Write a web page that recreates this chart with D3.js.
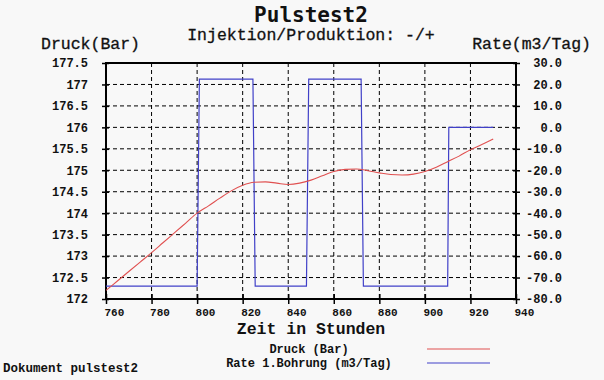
<!DOCTYPE html>
<html><head><meta charset="utf-8">
<script src="https://cdn.jsdelivr.net/npm/d3@7/dist/d3.min.js"></script>
<style>
html,body{margin:0;padding:0;background:#f8f8f8;}
svg{display:block;}
</style></head>
<body>
<script>
const title = "Pulstest2";
const subtitle = "Injektion/Produktion: -/+";
const xTicks = [760,780,800,820,840,860,880,900,920,940];
const leftTicks = [172,172.5,173,173.5,174,174.5,175,175.5,176,176.5,177,177.5];
const rightTicks = [-80,-70,-60,-50,-40,-30,-20,-10,0,10,20,30];
// Druck (Bar)
const pressureHours = [760,765,770,775,780,785,790,795,800,805,810,815,820,825,830,835,840,845,850,855,860,865,870,875,880,885,890,895,900,905,910,915,920,925,930];
const pressureValues = [172.2,172.42,172.64,172.86,173.08,173.31,173.54,173.77,174.0,174.17,174.35,174.52,174.65,174.72,174.73,174.7,174.67,174.7,174.77,174.87,174.97,175.02,175.03,174.99,174.94,174.9,174.89,174.91,174.97,175.07,175.2,175.33,175.48,175.6,175.73];
// Rate 1.Bohrung (m3/Tag)
const rateHours = [760,800,801,824.5,825.5,848,849,872,873,910,910.5,930];
const rateValues = [-74,-74,22.5,22.5,-74,-74,22.5,22.5,-74,-74,0,0];
const legendLabels = ["Druck (Bar)","Rate 1.Bohrung (m3/Tag)"];
const colors = ["#e05050","#4040c8"];

const W=604,H=380;
const L=106,R=516,T=63,B=299;
const svg=d3.select("body").append("svg").attr("width",W).attr("height",H);
svg.append("rect").attr("width",W).attr("height",H).attr("fill","#f8f8f8");

const x=d3.scaleLinear().domain([760,940]).range([L,R]);
const yL=d3.scaleLinear().domain([172,177.5]).range([B,T]);
const yR=d3.scaleLinear().domain([-80,30]).range([B,T]);

const mono="'Liberation Mono','DejaVu Sans Mono',monospace";

// grid
const g=svg.append("g");
g.selectAll(".gx").data(xTicks.slice(1,-1)).enter().append("line")
 .attr("x1",d=>x(d)).attr("x2",d=>x(d)).attr("y1",T).attr("y2",B)
 .attr("stroke","#000").attr("stroke-width",1).attr("stroke-dasharray","4,3");
g.selectAll(".gy").data(leftTicks.slice(1,-1)).enter().append("line")
 .attr("x1",L).attr("x2",R).attr("y1",d=>yL(d)).attr("y2",d=>yL(d))
 .attr("stroke","#000").attr("stroke-width",1).attr("stroke-dasharray","4,3");

// axes (ticks crossing the frame)
function styleAxis(sel){sel.select(".domain").remove();sel.selectAll("line").attr("stroke","#000").attr("stroke-width",1.5);}
const axL=svg.append("g").attr("transform",`translate(${L},0)`).call(d3.axisLeft(yL).tickValues(leftTicks).tickSize(4).tickFormat(d3.format("")));
styleAxis(axL);
axL.selectAll("text").attr("font-family",mono).attr("font-weight","bold").attr("font-size",12).attr("fill","#111").attr("x",-18);
svg.append("g").attr("transform",`translate(${L},0)`).call(d3.axisLeft(yL).tickValues(leftTicks).tickSize(-3).tickFormat("")).call(styleAxis);

const axR=svg.append("g").attr("transform",`translate(${R},0)`).call(d3.axisRight(yR).tickValues(rightTicks).tickSize(4).tickFormat(d=>d.toFixed(1)));
styleAxis(axR);
axR.selectAll("text").attr("font-family",mono).attr("font-weight","bold").attr("font-size",12).attr("fill","#111").attr("text-anchor","end").attr("x",46);
svg.append("g").attr("transform",`translate(${R},0)`).call(d3.axisRight(yR).tickValues(rightTicks).tickSize(-3).tickFormat("")).call(styleAxis);

const axB=svg.append("g").attr("transform",`translate(0,${B})`).call(d3.axisBottom(x).tickValues(xTicks).tickSize(5).tickFormat(d3.format("d")));
styleAxis(axB);
axB.selectAll("text").attr("font-family",mono).attr("font-weight","bold").attr("font-size",11).attr("fill","#111").attr("text-anchor","start").attr("x",-2).attr("y",9);
svg.append("g").attr("transform",`translate(0,${B})`).call(d3.axisBottom(x).tickValues(xTicks).tickSize(-5).tickFormat("")).call(styleAxis);

// frame
svg.append("rect").attr("x",L).attr("y",T).attr("width",R-L).attr("height",B-T).attr("fill","none").attr("stroke","#000").attr("stroke-width",2);

// lines
const clip=svg.append("clipPath").attr("id","c").append("rect").attr("x",L).attr("y",T).attr("width",R-L).attr("height",B-T);
const rateData=rateHours.map((h,i)=>[h,rateValues[i]]);
const presData=pressureHours.map((h,i)=>[h,pressureValues[i]]);
svg.append("path").datum(rateData).attr("d",d3.line().x(d=>x(d[0])).y(d=>yR(d[1])))
 .attr("fill","none").attr("stroke",colors[1]).attr("stroke-width",1.2).attr("clip-path","url(#c)");
svg.append("path").datum(presData).attr("d",d3.line().curve(d3.curveMonotoneX).x(d=>x(d[0])).y(d=>yL(d[1])))
 .attr("fill","none").attr("stroke",colors[0]).attr("stroke-width",1.1).attr("clip-path","url(#c)");

// texts
svg.append("text").attr("x",311).attr("y",22).attr("text-anchor","middle").attr("font-family","'DejaVu Sans Mono',monospace").attr("font-weight","bold").attr("font-size",21).attr("fill","#111").text(title);
svg.append("text").attr("x",311).attr("y",40).attr("text-anchor","middle").attr("font-family",mono).attr("font-size",16.5).attr("fill","#111").attr("stroke","#111").attr("stroke-width",0.3).text(subtitle);
svg.append("text").attr("x",41).attr("y",49).attr("font-family",mono).attr("font-size",16.5).attr("fill","#111").attr("stroke","#111").attr("stroke-width",0.3).text("Druck(Bar)");
svg.append("text").attr("x",591).attr("y",49).attr("text-anchor","end").attr("font-family",mono).attr("font-size",16.5).attr("fill","#111").attr("stroke","#111").attr("stroke-width",0.3).text("Rate(m3/Tag)");
svg.append("text").attr("x",311).attr("y",334).attr("text-anchor","middle").attr("font-family",mono).attr("font-size",16.5).attr("font-weight","bold").attr("fill","#111").text("Zeit in Stunden");

// legend
legendLabels.forEach((lab,i)=>{
  const yy=349+i*14;
  svg.append("text").attr("x",309).attr("y",yy+4).attr("text-anchor","middle").attr("font-family",mono).attr("font-size",12).attr("font-weight","bold").attr("fill","#111").text(lab);
  svg.append("line").attr("x1",427).attr("x2",490).attr("y1",yy).attr("y2",yy).attr("stroke",colors[i]).attr("stroke-width",1.2);
});
svg.append("text").attr("x",3).attr("y",372).attr("font-family",mono).attr("font-size",12.5).attr("font-weight","bold").attr("fill","#111").text("Dokument pulstest2");
</script>
</body></html>
